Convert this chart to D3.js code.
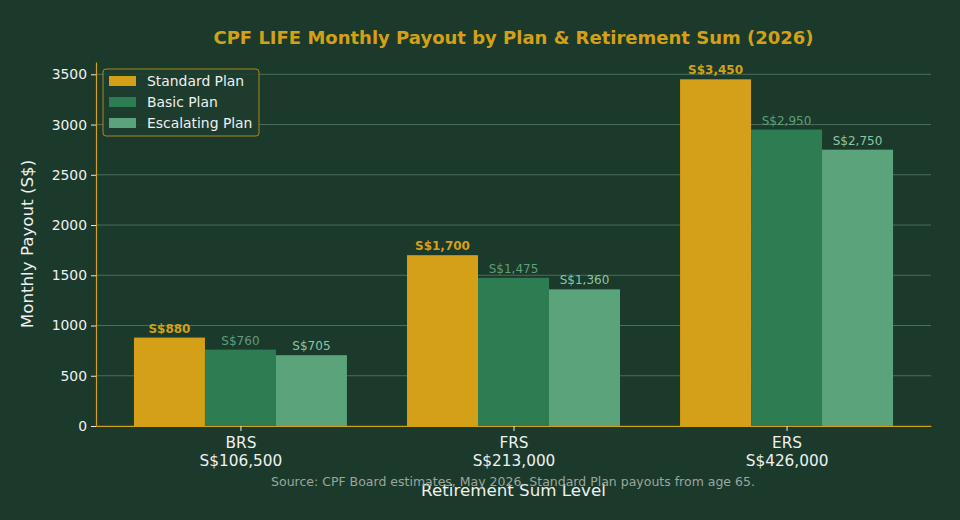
<!DOCTYPE html>
<html>
<head>
<meta charset="utf-8">
<script src="https://cdn.jsdelivr.net/npm/d3@7"></script>
<style>
  body { margin: 0; background: #1b3a2b; }
  svg { display: block; font-family: "DejaVu Sans", sans-serif; }
</style>
</head>
<body>
<div id="chart"></div>
<script>
const levels = ["BRS", "FRS", "ERS"];
const levelSums = ["S$106,500", "S$213,000", "S$426,000"];
const plans = ["Standard Plan", "Basic Plan", "Escalating Plan"];
const standardPayout = [880, 1700, 3450];
const basicPayout = [760, 1475, 2950];
const escalatingPayout = [705, 1360, 2750];
const yTicks = [0, 500, 1000, 1500, 2000, 2500, 3000, 3500];

const width = 960;
const height = 520;
const margin = { top: 62, right: 29, bottom: 94, left: 96 };
const iw = width - margin.left - margin.right;
const ih = height - margin.top - margin.bottom;

const gold = "#d4a017";
const barColors = [gold, "#2e7d52", "#5ba37a"];
const labelColors = [gold, "#5e9e78", "#8cc7a2"];
const seriesData = [standardPayout, basicPayout, escalatingPayout];

const svg = d3.select("#chart").append("svg")
    .attr("width", width)
    .attr("height", height);

svg.append("rect").attr("width", width).attr("height", height).attr("fill", "#1b3a2b");

const g = svg.append("g").attr("transform", `translate(${margin.left},${margin.top})`);

// matplotlib-like numeric x positions: groups at 0,1,2, bar width 0.26
const barW = 0.26;
const x = d3.scaleLinear().domain([-0.529, 2.529]).range([0, iw]);
const y = d3.scaleLinear().domain([0, 3622.5]).range([ih, 0]);

// grid
g.selectAll(".grid")
    .data(yTicks)
    .enter().append("line")
    .attr("class", "grid")
    .attr("x1", 0).attr("x2", iw)
    .attr("y1", d => y(d)).attr("y2", d => y(d))
    .attr("stroke", "#4d6e5b")
    .attr("stroke-width", 1);

// bars
seriesData.forEach((vals, s) => {
    const off = (s - 1) * barW;
    g.selectAll(".bar" + s)
        .data(vals)
        .enter().append("rect")
        .attr("x", (d, i) => x(i + off - barW / 2))
        .attr("width", x(barW) - x(0))
        .attr("y", d => y(d))
        .attr("height", d => y(0) - y(d))
        .attr("fill", barColors[s]);

    g.selectAll(".lbl" + s)
        .data(vals)
        .enter().append("text")
        .attr("x", (d, i) => x(i + off))
        .attr("y", d => y(d) - 5)
        .attr("text-anchor", "middle")
        .attr("font-size", "12px")
        .attr("font-weight", s === 0 ? "bold" : "normal")
        .attr("fill", labelColors[s])
        .text(d => "S$" + d3.format(",")(d));
});

// y axis
const yAxis = g.append("g")
    .call(d3.axisLeft(y).tickValues(yTicks).tickSize(5).tickSizeOuter(0).tickPadding(4).tickFormat(d3.format("d")));
yAxis.select(".domain").attr("stroke", gold).attr("stroke-width", 1.2);
yAxis.selectAll(".tick line").attr("stroke", "#e8e8e8");
yAxis.selectAll(".tick text").attr("fill", "#f0f0f0").attr("font-size", "13.9px")
    .attr("font-family", "DejaVu Sans");

// x axis
const xAxis = g.append("g")
    .attr("transform", `translate(0,${ih})`)
    .call(d3.axisBottom(x).tickValues([0, 1, 2]).tickSize(5).tickSizeOuter(0).tickFormat(""));
xAxis.select(".domain").attr("stroke", gold).attr("stroke-width", 1.2);
xAxis.selectAll(".tick line").attr("stroke", "#e8e8e8");
xAxis.selectAll(".tick").append("text")
    .attr("fill", "#f0f0f0")
    .attr("font-size", "15.3px")
    .attr("font-family", "DejaVu Sans")
    .attr("text-anchor", "middle")
    .selectAll("tspan")
    .data((d, i) => [levels[i], levelSums[i]])
    .enter().append("tspan")
    .attr("x", 0)
    .attr("y", (d, j) => 22 + j * 18)
    .text(d => d);

// title
svg.append("text")
    .attr("x", margin.left + iw / 2)
    .attr("y", 44)
    .attr("text-anchor", "middle")
    .attr("font-size", "18px")
    .attr("font-weight", "bold")
    .attr("fill", gold)
    .text("CPF LIFE Monthly Payout by Plan & Retirement Sum (2026)");

// axis labels
svg.append("text")
    .attr("transform", `translate(33,${margin.top + ih / 2}) rotate(-90)`)
    .attr("text-anchor", "middle")
    .attr("font-size", "16.7px")
    .attr("fill", "#f0f0f0")
    .text("Monthly Payout (S$)");

svg.append("text")
    .attr("x", margin.left + iw / 2)
    .attr("y", 496)
    .attr("text-anchor", "middle")
    .attr("font-size", "16.7px")
    .attr("fill", "#f0f0f0")
    .text("Retirement Sum Level");

svg.append("text")
    .attr("x", 513)
    .attr("y", 486)
    .attr("text-anchor", "middle")
    .attr("font-size", "12.5px")
    .attr("fill", "#9aa79e")
    .text("Source: CPF Board estimates, May 2026. Standard Plan payouts from age 65.");

// legend
const legend = svg.append("g").attr("transform", "translate(103,69)");
legend.append("rect")
    .attr("width", 156).attr("height", 67)
    .attr("rx", 3)
    .attr("fill", "#1e3d2e")
    .attr("fill-opacity", 0.9)
    .attr("stroke", "#a8881c")
    .attr("stroke-width", 1);
const items = legend.selectAll(".item")
    .data(plans)
    .enter().append("g")
    .attr("transform", (d, i) => `translate(6,${7 + i * 21})`);
items.append("rect")
    .attr("width", 27).attr("height", 10)
    .attr("fill", (d, i) => barColors[i]);
items.append("text")
    .attr("x", 38).attr("y", 10)
    .attr("font-size", "13.9px")
    .attr("fill", "#f0f0f0")
    .text(d => d);
</script>
</body>
</html>
